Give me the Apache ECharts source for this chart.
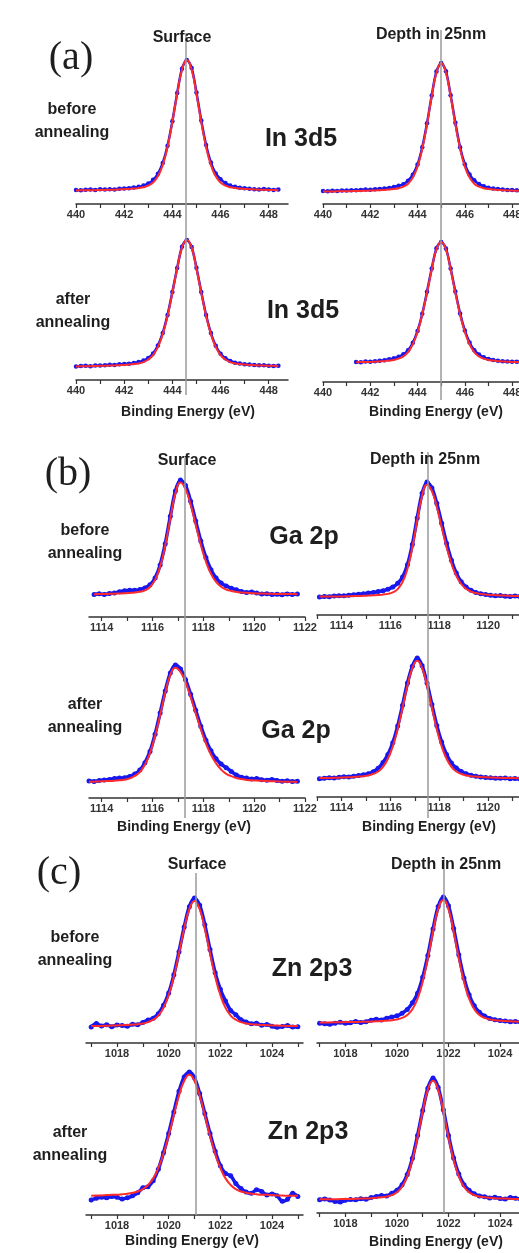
<!DOCTYPE html>
<html>
<head>
<meta charset="utf-8">
<script src="https://cdn.jsdelivr.net/npm/echarts@6/dist/echarts.min.js"></script>
<style>
  html, body { margin: 0; padding: 0; background: #fff; }
  #chart { width: 519px; height: 1253px; }
</style>
</head>
<body>
<div id="chart"></div>
<script>
// binding energy sampling (eV)
const inEnergy = [440.0, 440.2, 440.4, 440.6, 440.8, 441.0, 441.2, 441.4, 441.6, 441.8, 442.0, 442.2, 442.4, 442.6, 442.8, 443.0, 443.2, 443.4, 443.6, 443.8, 444.0, 444.2, 444.4, 444.6, 444.8, 445.0, 445.2, 445.4, 445.6, 445.8, 446.0, 446.2, 446.4, 446.6, 446.8, 447.0, 447.2, 447.4, 447.6, 447.8, 448.0, 448.2, 448.4];
const gaEnergy = [1113.1, 1113.3, 1113.5, 1113.7, 1113.9, 1114.1, 1114.3, 1114.5, 1114.7, 1114.9, 1115.1, 1115.3, 1115.5, 1115.7, 1115.9, 1116.1, 1116.3, 1116.5, 1116.7, 1116.9, 1117.1, 1117.3, 1117.5, 1117.7, 1117.9, 1118.1, 1118.3, 1118.5, 1118.7, 1118.9, 1119.1, 1119.3, 1119.5, 1119.7, 1119.9, 1120.1, 1120.3, 1120.5, 1120.7, 1120.9, 1121.1, 1121.3, 1121.5, 1121.7, 1121.9];
const znEnergy = [1017.0, 1017.2, 1017.4, 1017.6, 1017.8, 1018.0, 1018.2, 1018.4, 1018.6, 1018.8, 1019.0, 1019.2, 1019.4, 1019.6, 1019.8, 1020.0, 1020.2, 1020.4, 1020.6, 1020.8, 1021.0, 1021.2, 1021.4, 1021.6, 1021.8, 1022.0, 1022.2, 1022.4, 1022.6, 1022.8, 1023.0, 1023.2, 1023.4, 1023.6, 1023.8, 1024.0, 1024.2, 1024.4, 1024.6, 1024.8, 1025.0];

// tick marks / labels
const inTicks = [440, 441, 442, 443, 444, 445, 446, 447, 448];
const inLabels = [440, 442, 444, 446, 448];
const gaTicks = [1113, 1114, 1115, 1116, 1117, 1118, 1119, 1120, 1121, 1122];
const gaLabels = [1114, 1116, 1118, 1120, 1122];
const znTicks = [1017, 1018, 1019, 1020, 1021, 1022, 1023, 1024, 1025];
const znLabels = [1018, 1020, 1022, 1024];

// reference peak positions (grey lines): [surface, depth]
const inRefEnergy = [444.55, 445.0];
const gaRefEnergy = [1117.27, 1117.55];
const znRefEnergy = [1021.06, 1021.8];

// intensities, normalised (0 = axis line, 100 = peak top)
const in3d5SurfBeforeData = [9.8, 9.6, 9.9, 10.0, 9.7, 10.2, 10.0, 10.3, 10.1, 10.6, 10.8, 11.0, 11.4, 11.9, 12.8, 14.2, 16.8, 21.0, 28.5, 40.5, 57.5, 77.0, 94.0, 100, 94.5, 77.5, 58.0, 41.0, 28.8, 21.2, 17.2, 14.5, 12.8, 12.0, 11.3, 10.9, 10.6, 10.3, 10.1, 10.4, 10.0, 9.8, 10.0];
const in3d5SurfBeforeFit = [9.4, 9.5, 9.5, 9.5, 9.6, 9.7, 9.8, 9.9, 9.9, 10.1, 10.3, 10.5, 10.7, 11.1, 11.6, 12.7, 14.9, 19.2, 27.0, 39.6, 56.9, 76.5, 93.2, 100, 93.2, 76.5, 56.9, 39.6, 27.0, 19.2, 14.9, 12.7, 11.6, 11.1, 10.7, 10.5, 10.3, 10.1, 9.9, 9.9, 9.8, 9.7, 9.6];
const in3d5DepthBeforeData = [9.2, 9.0, 9.4, 9.3, 9.6, 9.5, 9.8, 9.7, 10.0, 10.2, 10.1, 10.5, 10.7, 11.0, 11.4, 12.0, 12.9, 14.0, 16.5, 20.8, 28.0, 40.2, 57.2, 77.0, 94.0, 100, 94.2, 77.2, 57.6, 40.3, 28.2, 21.0, 16.8, 14.2, 12.6, 11.6, 11.0, 10.6, 10.2, 10.0, 9.9, 9.7, 9.6];
const in3d5DepthBeforeFit = [8.9, 8.9, 8.9, 9.0, 9.0, 9.0, 9.1, 9.2, 9.3, 9.4, 9.5, 9.6, 9.8, 10.0, 10.2, 10.6, 11.2, 12.3, 14.4, 18.7, 26.6, 39.2, 56.6, 76.4, 93.1, 100, 93.1, 76.4, 56.6, 39.2, 26.6, 18.7, 14.4, 12.3, 11.2, 10.6, 10.2, 10.0, 9.8, 9.6, 9.5, 9.4, 9.3];
const in3d5SurfAfterData = [9.6, 10.0, 10.1, 9.8, 10.3, 10.4, 10.6, 10.9, 10.8, 11.2, 11.5, 11.6, 12.1, 12.8, 13.9, 15.8, 19.0, 24.6, 33.6, 46.5, 62.8, 80.0, 95.2, 100, 95.0, 80.2, 62.9, 46.4, 33.5, 24.5, 18.8, 15.6, 13.6, 12.4, 11.8, 11.3, 11.0, 10.7, 10.5, 10.6, 10.2, 10.0, 10.2];
const in3d5SurfAfterFit = [9.7, 9.8, 9.9, 9.9, 10.0, 10.1, 10.2, 10.3, 10.4, 10.6, 10.8, 11.0, 11.4, 11.8, 12.8, 14.6, 17.8, 23.6, 32.8, 45.8, 62.2, 79.5, 94.6, 100, 94.6, 79.5, 62.2, 45.8, 32.8, 23.6, 17.8, 14.6, 12.8, 11.8, 11.4, 11.0, 10.8, 10.6, 10.4, 10.3, 10.2, 10.1, 10.0];
const in3d5DepthAfterData = [null, null, null, null, null, null, null, 14.3, 14.1, 14.6, 14.4, 14.9, 15.2, 15.6, 16.2, 16.9, 18.0, 19.8, 22.6, 28.0, 36.5, 48.8, 64.5, 81.0, 95.5, 100, 95.4, 81.0, 64.6, 49.0, 36.8, 28.2, 22.6, 19.6, 17.6, 16.4, 15.7, 15.1, 14.8, 14.6, 14.4, 14.5, 14.2];
const in3d5DepthAfterFit = [null, null, null, null, null, null, null, 14.1, 14.2, 14.3, 14.3, 14.5, 14.7, 14.9, 15.3, 15.7, 16.7, 18.3, 21.4, 27.0, 35.8, 48.2, 63.8, 80.4, 94.8, 100, 94.8, 80.4, 63.8, 48.2, 35.8, 27.0, 21.4, 18.3, 16.7, 15.7, 15.3, 14.9, 14.7, 14.5, 14.3, 14.3, 14.2];

const ga2pSurfBeforeData = [null, null, null, 16.4, 16.9, 16.5, 17.2, 17.6, 18.4, 19.2, 19.6, 19.5, 20.0, 21.2, 23.5, 28.5, 38.0, 53.5, 73.5, 92.0, 100, 96.0, 84.5, 70.0, 55.5, 43.5, 34.5, 28.5, 24.8, 22.6, 21.0, 19.8, 18.6, 17.8, 18.2, 17.5, 16.8, 17.0, 16.4, 16.6, 16.3, 16.8, 16.5, 16.7, null];
const ga2pSurfBeforeFit = [null, null, null, 16.6, 16.7, 16.8, 16.9, 17.0, 17.2, 17.3, 17.6, 17.9, 18.4, 19.5, 21.9, 27.1, 36.8, 52.3, 72.0, 90.1, 98.1, 93.3, 81.9, 67.2, 52.6, 40.5, 31.5, 25.6, 22.1, 20.1, 19.0, 18.3, 17.9, 17.7, 17.4, 17.2, 17.2, 17.0, 16.9, 16.8, 16.8, 16.7, 16.7, 16.6, null];
const ga2pDepthBeforeData = [13.6, 14.0, 13.8, 14.3, 14.5, 14.4, 14.9, 15.3, 15.6, 16.0, 16.5, 16.9, 17.6, 18.2, 19.4, 21.0, 23.8, 28.6, 37.8, 53.0, 73.0, 91.5, 100, 95.5, 84.0, 69.0, 54.0, 41.2, 31.5, 25.0, 21.0, 18.6, 17.0, 16.0, 15.4, 14.9, 14.4, 14.6, 14.1, 14.0, 14.3, 13.9, 14.1, 13.8, 14.0];
const ga2pDepthBeforeFit = [13.9, 13.9, 13.9, 14.0, 14.0, 14.0, 14.1, 14.2, 14.3, 14.4, 14.6, 14.8, 15.0, 15.4, 15.9, 17.0, 19.5, 24.8, 34.8, 50.8, 71.1, 89.7, 98.0, 93.1, 81.4, 66.1, 51.2, 38.7, 29.4, 23.3, 19.7, 17.6, 16.5, 15.8, 15.4, 15.1, 14.9, 14.7, 14.6, 14.4, 14.3, 14.3, 14.3, 14.2, 14.2];
const ga2pSurfAfterData = [null, null, 12.8, 12.5, 13.1, 13.6, 14.0, 14.6, 15.0, 15.3, 16.2, 18.0, 21.0, 26.5, 35.0, 48.0, 64.0, 80.5, 94.0, 100, 97.0, 89.0, 78.0, 66.0, 54.0, 43.5, 35.5, 29.5, 25.5, 22.8, 20.0, 17.2, 15.6, 15.0, 14.2, 14.6, 13.8, 13.4, 13.9, 13.2, 12.6, 13.0, 12.4, 12.6, null];
const ga2pSurfAfterFit = [null, null, 12.2, 12.3, 12.4, 12.6, 12.8, 13.0, 13.3, 13.8, 14.8, 16.6, 19.5, 25.1, 33.8, 46.7, 62.5, 79.1, 92.5, 98.0, 94.8, 87.0, 76.0, 63.7, 51.7, 41.0, 32.5, 26.1, 21.4, 18.2, 16.4, 15.0, 14.2, 13.6, 13.3, 13.1, 12.9, 12.7, 12.6, 12.5, 12.3, 12.2, 12.2, 12.1, null];
const ga2pDepthAfterData = [13.2, 13.5, 13.9, 13.6, 14.2, 14.6, 14.4, 15.0, 15.4, 16.0, 16.8, 18.2, 20.6, 24.8, 30.5, 39.0, 51.0, 66.0, 82.0, 94.0, 100, 94.5, 82.0, 66.5, 51.5, 39.5, 30.5, 24.5, 20.8, 18.4, 16.8, 15.6, 15.0, 14.4, 14.0, 13.8, 13.5, 13.4, 13.6, 13.2, 13.3, 13.0, 13.2, 13.4, 13.1];
const ga2pDepthAfterFit = [13.6, 13.7, 13.7, 13.8, 13.9, 14.1, 14.2, 14.4, 14.7, 15.0, 15.5, 16.6, 18.3, 21.7, 27.5, 36.3, 48.8, 64.3, 80.1, 92.7, 98.0, 92.7, 80.1, 64.3, 48.8, 36.3, 27.5, 21.7, 18.3, 16.6, 15.5, 15.0, 14.7, 14.4, 14.2, 14.1, 13.9, 13.8, 13.7, 13.7, 13.6, 13.5, 13.5, 13.5, 13.4];

const zn2p3SurfBeforeData = [11.0, 13.5, 11.8, 12.6, 11.2, 12.4, 12.0, 11.6, 13.0, 12.6, 14.2, 15.8, 17.0, 20.2, 26.0, 34.5, 47.0, 63.0, 80.0, 94.0, 100, 95.0, 81.5, 64.5, 48.5, 37.0, 29.0, 22.5, 19.5, 16.0, 14.5, 13.2, 13.6, 12.2, 12.8, 11.6, 10.8, 11.4, 12.0, 11.0, 11.2];
const zn2p3SurfBeforeFit = [11.7, 11.7, 11.8, 11.9, 12.0, 12.1, 12.3, 12.4, 12.7, 13.0, 13.4, 14.4, 16.1, 18.9, 24.2, 33.1, 45.8, 61.9, 78.8, 92.3, 98.0, 92.3, 78.8, 61.9, 45.8, 33.1, 24.2, 18.9, 16.1, 14.4, 13.4, 13.0, 12.7, 12.4, 12.3, 12.1, 12.0, 11.9, 11.8, 11.7, 11.7];
const zn2p3DepthBeforeData = [13.6, 13.2, 12.8, 13.6, 14.2, 13.5, 13.9, 14.8, 14.0, 14.5, 15.6, 16.2, 15.8, 16.9, 17.8, 18.6, 20.4, 23.0, 27.5, 34.0, 45.0, 60.0, 78.0, 93.5, 100, 94.0, 78.5, 60.5, 44.5, 33.0, 25.5, 21.0, 18.5, 16.8, 15.9, 15.4, 15.0, 14.6, 14.8, 14.2, 14.5];
const zn2p3DepthBeforeFit = [14.0, 14.1, 14.1, 14.2, 14.2, 14.3, 14.3, 14.4, 14.5, 14.6, 14.7, 14.9, 15.0, 15.3, 15.6, 16.1, 17.2, 19.2, 23.1, 30.4, 42.0, 58.0, 76.2, 91.7, 98.0, 91.7, 76.2, 58.0, 42.0, 30.4, 23.1, 19.2, 17.2, 16.1, 15.6, 15.3, 15.0, 14.9, 14.7, 14.6, 14.5];
const zn2p3SurfAfterData = [10.5, 11.8, 12.4, 12.0, 13.0, 12.5, 11.2, 12.0, 13.4, 15.5, 19.0, 19.8, 24.0, 32.0, 43.5, 57.0, 72.0, 86.5, 96.5, 100, 96.0, 85.0, 71.0, 57.0, 44.5, 34.5, 29.0, 27.5, 22.0, 18.5, 16.0, 15.2, 17.6, 16.5, 14.0, 14.6, 13.4, 9.6, 11.0, 15.2, 13.0];
const zn2p3SurfAfterFit = [13.5, 13.6, 13.7, 13.9, 14.1, 14.2, 14.5, 14.9, 15.5, 16.4, 18.1, 21.0, 25.6, 32.9, 42.8, 55.5, 69.7, 83.6, 93.7, 98.0, 93.7, 83.6, 69.7, 55.5, 42.8, 32.9, 25.6, 21.0, 18.1, 16.4, 15.5, 14.9, 14.5, 14.2, 14.1, 13.9, 13.7, 13.6, 13.5, 13.5, 13.4];
const zn2p3DepthAfterData = [9.8, 10.4, 9.6, 8.6, 8.2, 9.4, 10.0, 9.8, 10.6, 10.2, 11.4, 12.2, 13.0, 12.6, 14.6, 16.8, 21.0, 28.5, 40.5, 57.5, 76.0, 92.5, 100, 93.0, 76.5, 57.5, 40.8, 28.8, 21.0, 16.8, 14.2, 12.6, 12.0, 11.2, 11.6, 10.8, 10.4, 11.4, 11.0, 10.2, 10.0];
const zn2p3DepthAfterFit = [10.1, 10.1, 10.1, 10.2, 10.3, 10.4, 10.4, 10.5, 10.7, 10.8, 11.0, 11.3, 11.6, 12.2, 13.2, 15.3, 19.5, 27.1, 39.3, 56.1, 75.2, 91.4, 98.0, 91.4, 75.2, 56.1, 39.3, 27.1, 19.5, 15.3, 13.2, 12.2, 11.6, 11.3, 11.0, 10.8, 10.7, 10.5, 10.4, 10.4, 10.3];

const BLUE = '#1717ee';
const RED = '#ff2b2b';
const SANS = '"Liberation Sans", Arial, sans-serif';
const SERIF = '"Liberation Serif", "DejaVu Serif", serif';

// column x-mappings (left edge, width, energy range)
const colA = [{ left: 76, width: 212, range: [440, 448.8] }, { left: 323, width: 208, range: [440, 448.8] }];
const colB = [{ left: 89, width: 216, range: [1113.5, 1122] }, { left: 317, width: 220, range: [1113, 1122] }];
const colC = [{ left: 86, width: 217, range: [1016.8, 1025.2] }, { left: 317, width: 214, range: [1016.9, 1025.2] }];

const plots = [
  { col: colA[0], top: 60, height: 144, energy: inEnergy, data: in3d5SurfBeforeData, fit: in3d5SurfBeforeFit, ticks: inTicks, labels: inLabels, lw: 2.5, dot: 4.5 },
  { col: colA[1], top: 63, height: 141, energy: inEnergy, data: in3d5DepthBeforeData, fit: in3d5DepthBeforeFit, ticks: inTicks, labels: inLabels, lw: 2.5, dot: 4.5 },
  { col: colA[0], top: 240, height: 140, energy: inEnergy, data: in3d5SurfAfterData, fit: in3d5SurfAfterFit, ticks: inTicks, labels: inLabels, lw: 2.5, dot: 4.5 },
  { col: colA[1], top: 242, height: 140, energy: inEnergy, data: in3d5DepthAfterData, fit: in3d5DepthAfterFit, ticks: inTicks, labels: inLabels, lw: 2.5, dot: 4.5 },
  { col: colB[0], top: 480, height: 137, energy: gaEnergy, data: ga2pSurfBeforeData, fit: ga2pSurfBeforeFit, ticks: gaTicks, labels: gaLabels, lw: 3.5, dot: 5 },
  { col: colB[1], top: 482, height: 133, energy: gaEnergy, data: ga2pDepthBeforeData, fit: ga2pDepthBeforeFit, ticks: gaTicks, labels: gaLabels, lw: 3.5, dot: 5 },
  { col: colB[0], top: 665, height: 133, energy: gaEnergy, data: ga2pSurfAfterData, fit: ga2pSurfAfterFit, ticks: gaTicks, labels: gaLabels, lw: 3.5, dot: 5 },
  { col: colB[1], top: 658, height: 139, energy: gaEnergy, data: ga2pDepthAfterData, fit: ga2pDepthAfterFit, ticks: gaTicks, labels: gaLabels, lw: 3.5, dot: 5 },
  { col: colC[0], top: 898, height: 145, energy: znEnergy, data: zn2p3SurfBeforeData, fit: zn2p3SurfBeforeFit, ticks: znTicks, labels: znLabels, lw: 3.5, dot: 5 },
  { col: colC[1], top: 897, height: 146, energy: znEnergy, data: zn2p3DepthBeforeData, fit: zn2p3DepthBeforeFit, ticks: znTicks, labels: znLabels, lw: 3.5, dot: 5 },
  { col: colC[0], top: 1072, height: 143, energy: znEnergy, data: zn2p3SurfAfterData, fit: zn2p3SurfAfterFit, ticks: znTicks, labels: znLabels, lw: 3.5, dot: 5 },
  { col: colC[1], top: 1078, height: 135, energy: znEnergy, data: zn2p3DepthAfterData, fit: zn2p3DepthAfterFit, ticks: znTicks, labels: znLabels, lw: 3.5, dot: 5 },
];

// grey reference lines, spanning both rows of a column
const refLines = [
  { col: colA[0], top: 33, height: 362, at: inRefEnergy[0] },
  { col: colA[1], top: 30, height: 370, at: inRefEnergy[1] },
  { col: colB[0], top: 458, height: 360, at: gaRefEnergy[0] },
  { col: colB[1], top: 452, height: 366, at: gaRefEnergy[1] },
  { col: colC[0], top: 873, height: 342, at: znRefEnergy[0] },
  { col: colC[1], top: 857, height: 356, at: znRefEnergy[1] },
];

const b16 = 'bold 16px ' + SANS;
const b14 = 'bold 14px ' + SANS;
const b25 = 'bold 25px ' + SANS;
const s38 = '40px ' + SERIF;
const texts = [
  ['(a)', 71, 58, s38], ['Surface', 182, 38, b16], ['Depth in 25nm', 431, 35, b16],
  ['before\nannealing', 72, 121, b16], ['In 3d5', 301, 139, b25],
  ['after\nannealing', 73, 311, b16], ['In 3d5', 303, 311, b25],
  ['Binding Energy (eV)', 188, 412, b14], ['Binding Energy (eV)', 436, 412, b14],
  ['(b)', 68, 474, s38], ['Surface', 187, 461, b16], ['Depth in 25nm', 425, 460, b16],
  ['before\nannealing', 85, 542, b16], ['Ga 2p', 304, 537, b25],
  ['after\nannealing', 85, 716, b16], ['Ga 2p', 296, 731, b25],
  ['Binding Energy (eV)', 184, 827, b14], ['Binding Energy (eV)', 429, 827, b14],
  ['(c)', 59, 873, s38], ['Surface', 197, 865, b16], ['Depth in 25nm', 446, 865, b16],
  ['before\nannealing', 75, 949, b16], ['Zn 2p3', 312, 969, b25],
  ['after\nannealing', 70, 1144, b16], ['Zn 2p3', 308, 1132, b25],
  ['Binding Energy (eV)', 192, 1241, b14], ['Binding Energy (eV)', 436, 1242, b14],
];

const grid = [], xAxis = [], yAxis = [], series = [];

const toPairs = (xs, ys) => {
  const out = [];
  xs.forEach((x, i) => { if (ys[i] != null) out.push([x, ys[i]]); });
  return out;
};

const addFrame = (col, top, height, ticks, labels, visible) => {
  const idx = grid.length;
  grid.push({ left: col.left, width: col.width, top: top, height: height, containLabel: false, outerBoundsMode: 'none' });
  xAxis.push({
    gridIndex: idx, type: 'value', min: col.range[0], max: col.range[1], show: visible,
    splitLine: { show: false },
    axisLine: { onZero: false, lineStyle: { color: '#333', width: 1.5 } },
    axisTick: { customValues: ticks, length: 4, lineStyle: { color: '#333', width: 1.2 } },
    axisLabel: {
      customValues: labels, margin: 5, fontSize: 11, fontWeight: 'bold', color: '#333', fontFamily: SANS,
      formatter: (v) => String(v),
    },
  });
  yAxis.push({ gridIndex: idx, type: 'value', min: 0, max: 100, show: false });
  return idx;
};

refLines.forEach((r) => {
  const i = addFrame(r.col, r.top, r.height, [], [], false);
  series.push({
    type: 'line', xAxisIndex: i, yAxisIndex: i, data: [], z: 1, silent: true,
    markLine: {
      silent: true, symbol: 'none', label: { show: false },
      lineStyle: { color: '#9a9a9a', width: 1.5, type: 'solid' },
      data: [{ xAxis: r.at }],
    },
  });
});

plots.forEach((p) => {
  const i = addFrame(p.col, p.top, p.height, p.ticks, p.labels, true);
  series.push({
    type: 'line', xAxisIndex: i, yAxisIndex: i, data: toPairs(p.energy, p.data),
    smooth: 0.3, symbol: 'circle', symbolSize: p.dot, showSymbol: true,
    itemStyle: { color: BLUE }, lineStyle: { color: BLUE, width: p.lw }, z: 3,
  });
  series.push({
    type: 'line', xAxisIndex: i, yAxisIndex: i, data: toPairs(p.energy, p.fit),
    smooth: true, symbol: 'none', lineStyle: { color: RED, width: 2 }, z: 4,
  });
});

const graphic = texts.map(([text, x, y, font]) => ({
  type: 'text', x: x, y: y, z: 10, silent: true,
  style: { text: text, font: font, fill: '#1e1e1e', align: 'center', verticalAlign: 'middle', lineHeight: 23 },
}));

const chart = echarts.init(document.getElementById('chart'));
chart.setOption({
  animation: false,
  backgroundColor: '#fff',
  grid: grid,
  xAxis: xAxis,
  yAxis: yAxis,
  series: series,
  graphic: graphic,
});
</script>
</body>
</html>
